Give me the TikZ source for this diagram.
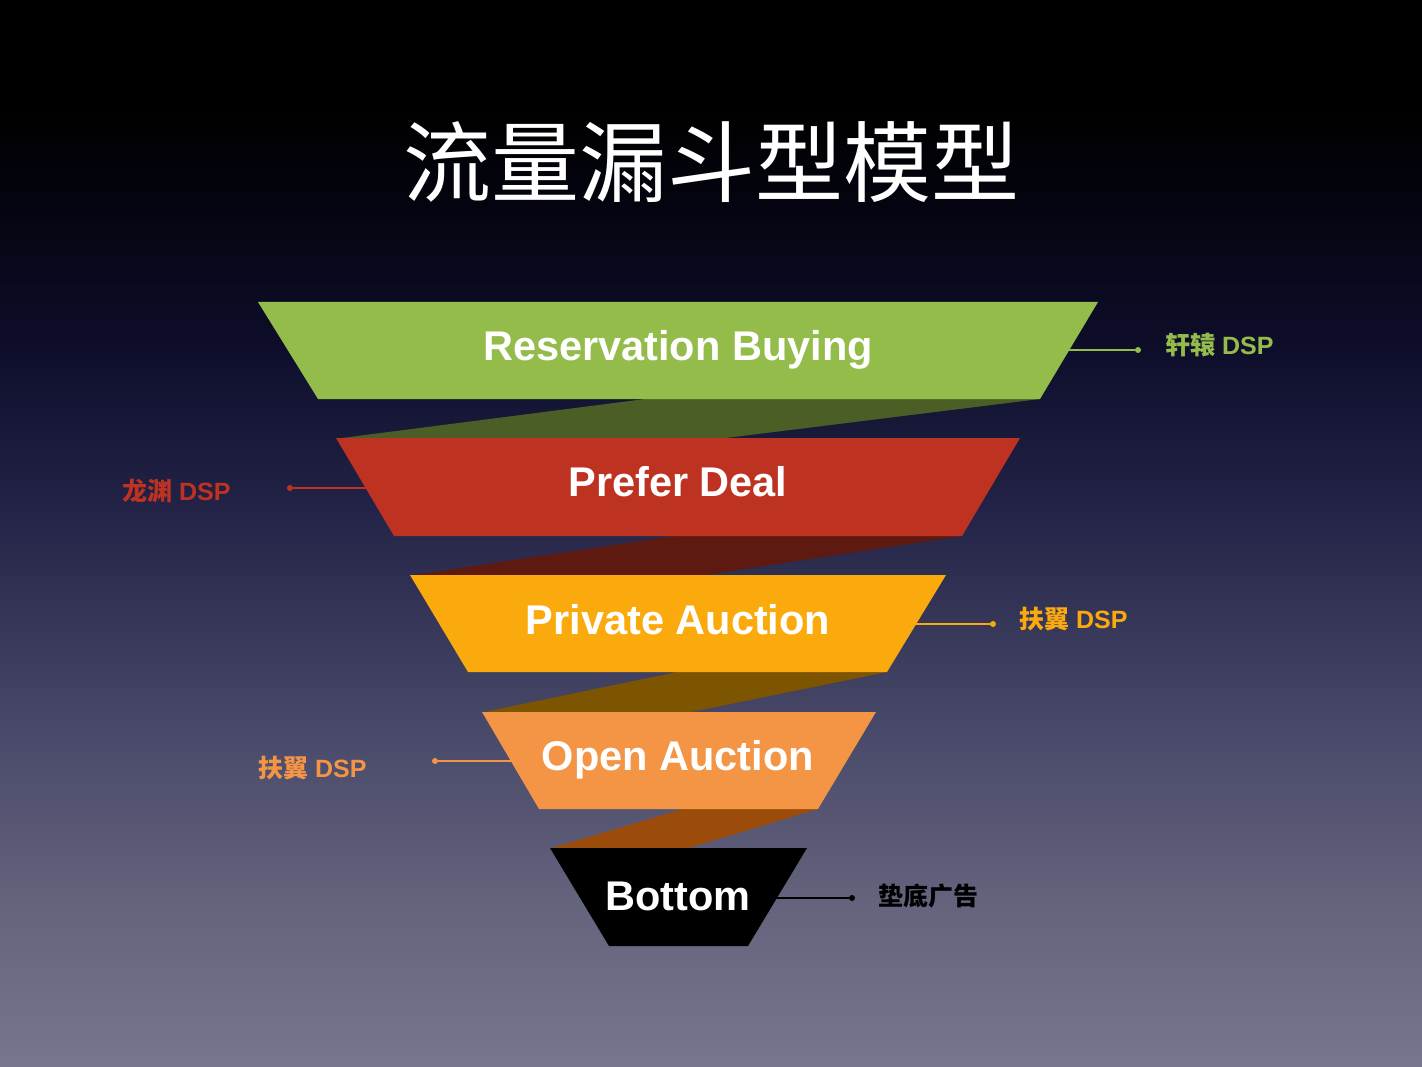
\documentclass[tikz,border=0pt]{standalone}
\usepackage{fontspec}
\setmainfont{Liberation Sans}
\newfontfamily\cjk{Noto Sans CJK SC}
\definecolor{bgA}{HTML}{78768E}
\definecolor{bgB}{HTML}{63637D}
\definecolor{bgC}{HTML}{4C4C6C}
\definecolor{bgD}{HTML}{222246}
\definecolor{bgE}{HTML}{0E0E2C}
\definecolor{bgF}{HTML}{040410}
\definecolor{cGreen}{HTML}{94BC4A}
\definecolor{sGreen}{HTML}{4B5E26}
\definecolor{cRed}{HTML}{BE3222}
\definecolor{sRed}{HTML}{5E1A10}
\definecolor{cOrange}{HTML}{FBAA0E}
\definecolor{sOrange}{HTML}{7D5400}
\definecolor{cLight}{HTML}{F39544}
\definecolor{sLight}{HTML}{9C4C0A}
\pgfdeclareverticalshading{bgshade}{100bp}{color(0bp)=(bgA); color(25bp)=(bgA); color(32.8bp)=(bgB); color(39.85bp)=(bgC); color(51.5bp)=(bgD); color(58.5bp)=(bgE); color(65.5bp)=(bgF); color(70bp)=(black); color(100bp)=(black)}
\begin{document}
\begin{tikzpicture}[x=1pt,y=-1pt,
  tier/.style={font=\bfseries\fontsize{41.5}{41.5}\selectfont, text=white, anchor=base, inner sep=0pt},
  side/.style={font=\bfseries\fontsize{25}{25}\selectfont, anchor=base west, inner sep=0pt},
  dotnode/.style={circle, fill=#1, minimum size=6pt, inner sep=0pt},
  lead/.style={line width=1.5pt, draw=#1}
]
\useasboundingbox (0,0) rectangle (1422,1067);
\shade[shading=bgshade] (0,0) rectangle (1422,1067);

% title
\node[font=\cjk\fontsize{88}{88}\selectfont, text=white, inner sep=0pt] (title) at (711,162) {流量漏斗型模型};

% leader lines (behind shapes)
\coordinate (e1) at (1068,350);
\node[dotnode=cGreen] (d1) at (1138,350) {};
\draw[lead=cGreen] (e1) -- (d1);
\coordinate (e2) at (370,488);
\node[dotnode=cRed] (d2) at (290,488) {};
\draw[lead=cRed] (e2) -- (d2);
\coordinate (e3) at (914,624);
\node[dotnode=cOrange] (d3) at (993,624) {};
\draw[lead=cOrange] (e3) -- (d3);
\coordinate (e4) at (516,761);
\node[dotnode=cLight] (d4) at (435,761) {};
\draw[lead=cLight] (e4) -- (d4);
\coordinate (e5) at (774,898);
\node[dotnode=black] (d5) at (852,898) {};
\draw[lead=black] (e5) -- (d5);

% shadows
\fill[sGreen] (645,399) -- (1040,399) -- (722,438.5) -- (338,438.5) -- cycle;
\fill[sRed] (674,536) -- (962,536) -- (701,575.5) -- (410,575.5) -- cycle;
\fill[sOrange] (677,672) -- (887,672) -- (689,712.5) -- (482,712.5) -- cycle;
\fill[sLight] (683,809) -- (818,809) -- (687,848.5) -- (550,848.5) -- cycle;

% funnel tiers
\fill[cGreen] (258,302) -- (1098,302) -- (1040,399) -- (318,399) -- cycle;
\fill[cRed] (336,438) -- (1020,438) -- (962,536) -- (394,536) -- cycle;
\fill[cOrange] (410,575) -- (946,575) -- (887,672) -- (468,672) -- cycle;
\fill[cLight] (482,712) -- (876,712) -- (818,809) -- (539,809) -- cycle;
\fill[black] (550,848) -- (807,848) -- (748,946) -- (609,946) -- cycle;

\node[tier] (t1) at (678,360) {Reservation Buying};
\node[tier] (t2) at (678,496) {Prefer Deal};
\node[tier] (t3) at (678,634) {Private Auction};
\node[tier] (t4) at (678,770) {Open Auction};
\node[tier] (t5) at (678,910) {Bottom};

% side labels
\node[side, text=cGreen] (l1) at (1165,355) {{\cjk 轩辕} DSP};
\node[side, text=cRed] (l2) at (122,500) {{\cjk 龙渊} DSP};
\node[side, text=cOrange] (l3) at (1019,628) {{\cjk 扶翼} DSP};
\node[side, text=cLight] (l4) at (258,777) {{\cjk 扶翼} DSP};
\node[side, text=black] (l5) at (878,905) {{\cjk 垫底广告}};
\end{tikzpicture}
\end{document}
